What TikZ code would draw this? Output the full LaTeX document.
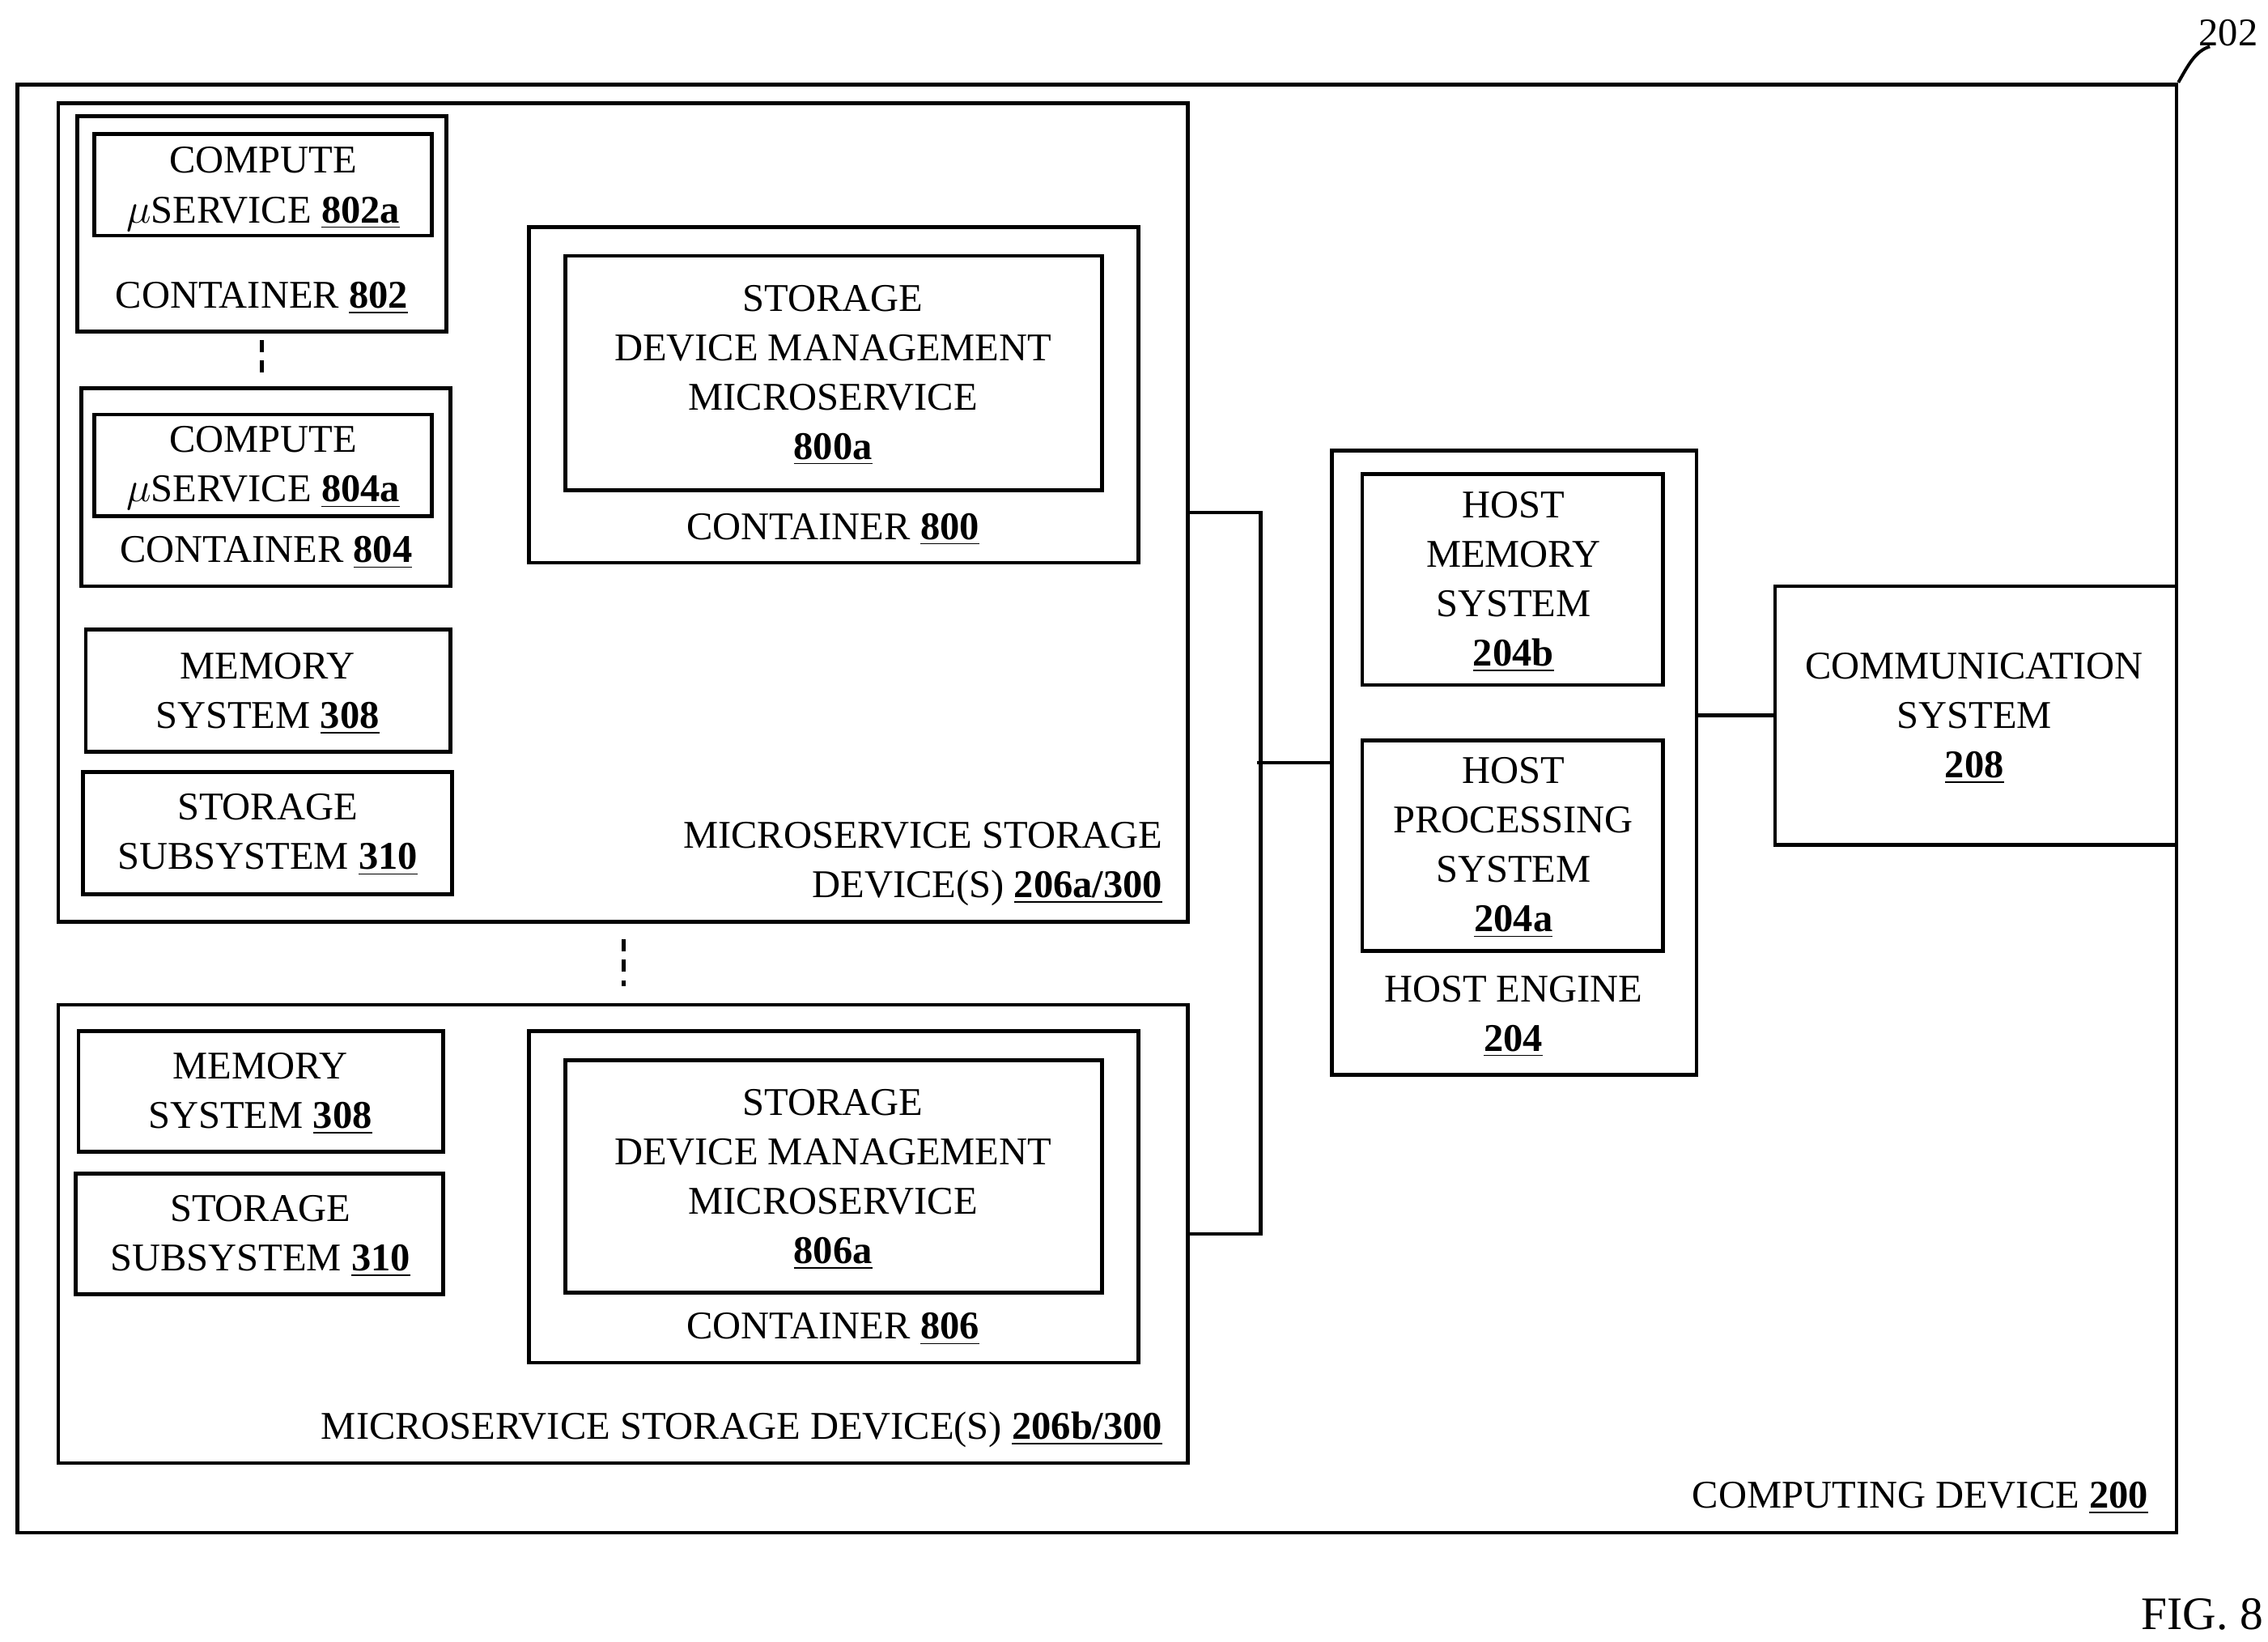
\documentclass[tikz,border=0pt]{standalone}
\usepackage{fontspec}
\setmainfont{Liberation Serif}
\usetikzlibrary{fit}
\newcommand{\nm}[1]{\underline{\textbf{#1}}}
\begin{document}
\begin{tikzpicture}[x=0.5pt,y=-0.5pt,
  box/.style={draw,line width=1.3pt,inner sep=0pt},
  txt/.style={font=\fontsize{13.5}{17}\selectfont,align=center,inner sep=0pt},
  dsh/.style={line width=1.3pt,dash pattern=on 4pt off 3pt}]
\useasboundingbox (0,0) rectangle (1560,1129);
\node[box,fit={(12,58)(1497,1054)}] (outer) {};
\node[txt,anchor=south west] (n202) at (1512,32) {202};
\coordinate (c202) at (1520,32);
\draw[line width=1.1pt] (outer.north east) .. controls (1505,45) and (1510,35) .. (c202);
% device a
\node[box,fit={(40,71)(817,634)}] (devA) {};
\node[box,fit={(53,80)(307,228)}] (c802) {};
\node[box,fit={(65,92)(297,162)}] (s802) {};
\node[txt] at (181,130) {COMPUTE\\$\mu$SERVICE \nm{802a}};
\node[txt] at (180,205) {CONTAINER \nm{802}};
\coordinate (d1a) at (180,234); \coordinate (d1b) at (180,256);
\draw[dsh] (d1a) -- (d1b);
\node[box,fit={(56,267)(310,403)}] (c804) {};
\node[box,fit={(65,285)(297,355)}] (s804) {};
\node[txt] at (181,322) {COMPUTE\\$\mu$SERVICE \nm{804a}};
\node[txt] at (183,380) {CONTAINER \nm{804}};
\node[box,fit={(59,433)(310,517)}] (memA) {};
\node[txt] at (184,477) {MEMORY\\SYSTEM \nm{308}};
\node[box,fit={(57,531)(311,615)}] (stoA) {};
\node[txt] at (184,574) {STORAGE\\SUBSYSTEM \nm{310}};
\node[box,fit={(364,156)(783,387)}] (c800) {};
\node[box,fit={(389,176)(758,337)}] (s800) {};
\node[txt] at (573,258) {STORAGE\\DEVICE MANAGEMENT\\MICROSERVICE\\\nm{800a}};
\node[txt] at (573,364) {CONTAINER \nm{800}};
\node[txt,align=right,anchor=east] at (800,594) {MICROSERVICE STORAGE\\DEVICE(S) \nm{206a/300}};
\coordinate (d2a) at (429,646); \coordinate (d2b) at (429,678);
\draw[dsh] (d2a) -- (d2b);
% device b
\node[box,fit={(40,691)(817,1006)}] (devB) {};
\node[box,fit={(54,709)(305,792)}] (memB) {};
\node[txt] at (179,752) {MEMORY\\SYSTEM \nm{308}};
\node[box,fit={(52,807)(305,890)}] (stoB) {};
\node[txt] at (179,850) {STORAGE\\SUBSYSTEM \nm{310}};
\node[box,fit={(364,709)(783,937)}] (c806) {};
\node[box,fit={(389,729)(758,889)}] (s806) {};
\node[txt] at (573,811) {STORAGE\\DEVICE MANAGEMENT\\MICROSERVICE\\\nm{806a}};
\node[txt] at (573,914) {CONTAINER \nm{806}};
\node[txt,anchor=east] at (800,983) {MICROSERVICE STORAGE DEVICE(S) \nm{206b/300}};
% host
\node[box,fit={(916,310)(1167,739)}] (host) {};
\node[box,fit={(937,326)(1144,471)}] (hmem) {};
\node[txt] at (1041,400) {HOST\\MEMORY\\SYSTEM\\\nm{204b}};
\node[box,fit={(937,509)(1144,654)}] (hproc) {};
\node[txt] at (1041,583) {HOST\\PROCESSING\\SYSTEM\\\nm{204a}};
\node[txt] at (1041,699) {HOST ENGINE\\\nm{204}};
\node[box,fit={(1221,403)(1497,581)}] (comm) {};
\node[txt] at (1358,494) {COMMUNICATION\\SYSTEM\\\nm{208}};
\node[txt,anchor=east] at (1478,1030) {COMPUTING DEVICE \nm{200}};
\node[txt,anchor=east,font=\fontsize{16}{19}\selectfont] at (1557,1110) {FIG. 8};
% connectors
\draw[line width=1.3pt] (devA.east) -- ++(49,0) |- (devB.east);
\draw[line width=1.3pt] (host.west) -- ++(-50,0);
\draw[line width=1.3pt] (comm.west) -- (comm.west -| host.east);
\end{tikzpicture}
\end{document}
